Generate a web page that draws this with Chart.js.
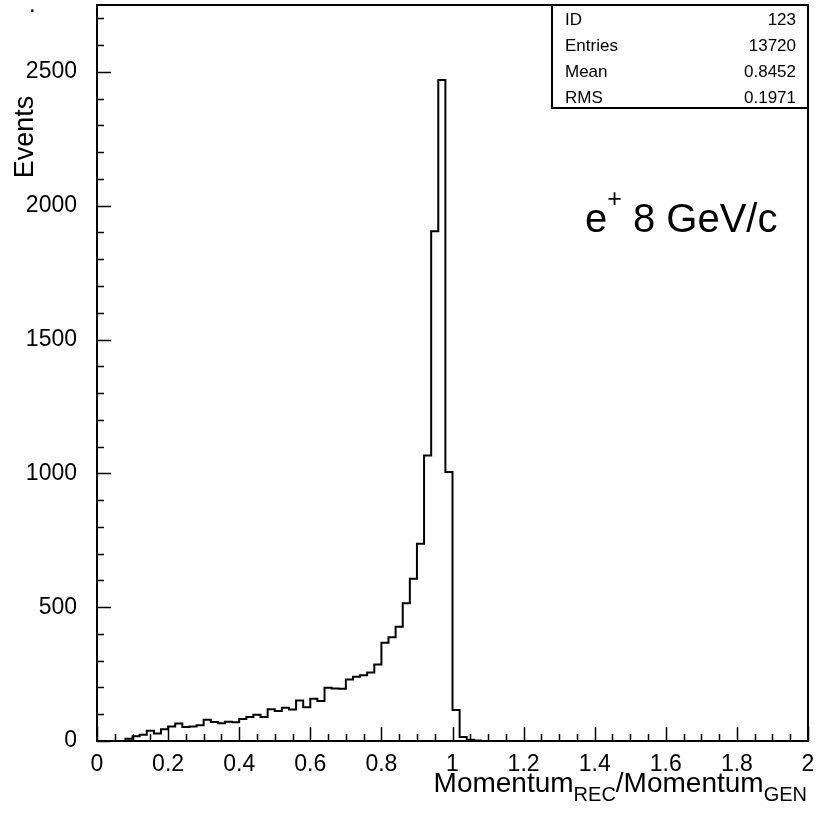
<!DOCTYPE html>
<html>
<head>
<meta charset="utf-8">
<script src="https://cdn.jsdelivr.net/npm/chart.js@4.4.1/dist/chart.umd.min.js"></script>
<style>
  html, body { margin: 0; padding: 0; background: #fff; }
  #wrap { width: 818px; height: 815px; position: relative; }
</style>
</head>
<body>
<div id="wrap"><canvas id="histo"></canvas></div>
<script>
// histogram: 100 bins of 0.02 from 0 to 2
const binStart = 0;
const binWidth = 0.02;
const counts = [
  0, 0, 0, 0, 0, 8, 18, 23, 38, 28,
  44, 54, 65, 52, 54, 59, 79, 71, 66, 72,
  70, 82, 90, 98, 90, 119, 112, 124, 118, 151,
  126, 158, 149, 199, 196, 195, 230, 240, 246, 256,
  286, 367, 388, 427, 515, 606, 737, 1067, 1905, 2470,
  1005, 116, 15, 5, 2, 0, 0, 0, 0, 0,
  0, 0, 0, 0, 0, 0, 0, 0, 0, 0,
  0, 0, 0, 0, 0, 0, 0, 0, 0, 0,
  0, 0, 0, 0, 0, 0, 0, 0, 0, 0,
  0, 0, 0, 0, 0, 0, 0, 0, 0, 0
];

// axis ticks
const xTickValues = [0, 0.2, 0.4, 0.6, 0.8, 1, 1.2, 1.4, 1.6, 1.8, 2];
const xTickLabels = ["0", "0.2", "0.4", "0.6", "0.8", "1", "1.2", "1.4", "1.6", "1.8", "2"];
const yTickValues = [0, 500, 1000, 1500, 2000, 2500];

// stats box
const statNames = ["ID", "Entries", "Mean", "RMS"];
const statValues = ["123", "13720", "0.8452", "0.1971"];

const FONT = "'Liberation Sans', Arial, Helvetica, sans-serif";

// step outline points (left edge of every bin + closing point)
const points = counts.map((c, i) => ({ x: binStart + i * binWidth, y: c }));
points.push({ x: binStart + counts.length * binWidth, y: counts[counts.length - 1] });

function noPad(s) {
  s.paddingTop = 0; s.paddingBottom = 0; s.paddingLeft = 0; s.paddingRight = 0;
}

const framePlugin = {
  id: "frame",
  afterDraw(chart) {
    const { ctx, chartArea: a, scales } = chart;
    const xs = scales.x, ys = scales.y;
    ctx.save();
    ctx.strokeStyle = "#000";
    ctx.lineWidth = 2;
    ctx.strokeRect(a.left, a.top, a.right - a.left, a.bottom - a.top);

    // inward ticks
    ctx.lineWidth = 1.5;
    ctx.beginPath();
    for (let k = 0; k <= 40; k++) {
      const v = k * 0.05;
      const px = Math.round(xs.getPixelForValue(v)) + 0.5;
      const len = k % 4 === 0 ? 14 : 7;
      ctx.moveTo(px, a.bottom);
      ctx.lineTo(px, a.bottom - len);
    }
    for (let v = 0; v <= 2700; v += 100) {
      const py = Math.round(ys.getPixelForValue(v)) + 0.5;
      const len = v % 500 === 0 ? 14 : 7;
      ctx.moveTo(a.left, py);
      ctx.lineTo(a.left + len, py);
    }
    ctx.stroke();

    // stats box
    const bx = 552, by = a.top, bw = a.right - 552, bh = 103;
    ctx.fillStyle = "#fff";
    ctx.fillRect(bx, by, bw, bh);
    ctx.lineWidth = 2;
    ctx.strokeRect(bx, by, bw, bh);
    ctx.fillStyle = "#000";
    ctx.font = "17px " + FONT;
    ctx.textBaseline = "alphabetic";
    const rowBase = [24.5, 51, 77, 102.5];
    statNames.forEach((n, i) => {
      ctx.textAlign = "left";
      ctx.fillText(n, 565, rowBase[i]);
      ctx.textAlign = "right";
      ctx.fillText(statValues[i], 796, rowBase[i]);
    });

    // annotation e+ 8 GeV/c
    ctx.textAlign = "left";
    ctx.font = "40px " + FONT;
    let tx = 585;
    ctx.fillText("e", tx, 232);
    tx += ctx.measureText("e").width;
    ctx.font = "25px " + FONT;
    ctx.fillText("+", tx, 207);
    tx += ctx.measureText("+").width;
    ctx.font = "40px " + FONT;
    ctx.fillText(" 8 GeV/c", tx, 232);

    // x axis title with subscripts
    const parts = [
      ["Momentum", 28, 0], ["REC", 20, 9], ["/Momentum", 28, 0], ["GEN", 20, 9]
    ];
    let total = 0;
    parts.forEach(p => { ctx.font = p[1] + "px " + FONT; total += ctx.measureText(p[0]).width; });
    let cx = 807 - total;
    parts.forEach(p => {
      ctx.font = p[1] + "px " + FONT;
      ctx.fillText(p[0], cx, 792 + p[2]);
      cx += ctx.measureText(p[0]).width;
    });

    // y axis title
    ctx.save();
    ctx.translate(33, 137);
    ctx.rotate(-Math.PI / 2);
    ctx.textAlign = "center";
    ctx.font = "27px " + FONT;
    ctx.fillText("Events", 0, 0);
    ctx.restore();

    // stray dot top-left
    ctx.font = "24px " + FONT;
    ctx.fillText(".", 29, 12);
    ctx.restore();
  }
};

new Chart(document.getElementById("histo"), {
  type: "line",
  data: {
    datasets: [{
      data: points,
      stepped: "after",
      borderColor: "#000",
      borderWidth: 2,
      pointRadius: 0,
      fill: false
    }]
  },
  options: {
    responsive: true,
    maintainAspectRatio: false,
    animation: false,
    layout: { autoPadding: false, padding: { top: 5, right: 10, left: 0, bottom: 0 } },
    plugins: { legend: { display: false }, tooltip: { enabled: false } },
    scales: {
      x: {
        type: "linear",
        min: 0,
        max: 2,
        afterFit: s => { s.height = 74; noPad(s); },
        afterBuildTicks: s => { s.ticks = xTickValues.map(v => ({ value: v })); },
        grid: { display: false, drawTicks: false },
        border: { display: false },
        ticks: {
          padding: 10,
          maxRotation: 0,
          autoSkip: false,
          color: "#000",
          font: { family: FONT, size: 23 },
          callback: (v, i) => xTickLabels[i]
        }
      },
      y: {
        min: 0,
        max: 2750,
        afterFit: s => { s.width = 97; noPad(s); },
        afterBuildTicks: s => { s.ticks = yTickValues.map(v => ({ value: v })); },
        grid: { display: false, drawTicks: false },
        border: { display: false },
        ticks: {
          padding: 20,
          autoSkip: false,
          color: "#000",
          font: { family: FONT, size: 23 },
          callback: v => String(v)
        }
      }
    }
  },
  plugins: [framePlugin]
});
</script>
</body>
</html>
